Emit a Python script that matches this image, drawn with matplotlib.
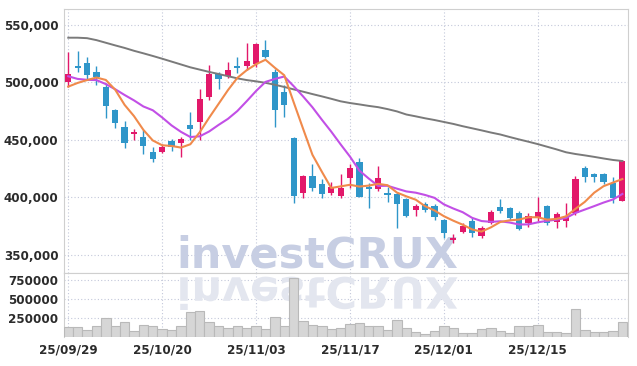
import matplotlib
matplotlib.use("Agg")
import matplotlib.pyplot as plt
import matplotlib.patheffects as pe
from matplotlib import font_manager as fm
from matplotlib.transforms import Affine2D
from matplotlib.ticker import FuncFormatter
import numpy as np

# tick labels on the date axis (trading-day index -> label)
tick_idx = [0, 10, 20, 30, 40, 50]
tick_labels = ["25/09/29", "25/10/20", "25/11/03", "25/11/17", "25/12/01", "25/12/15"]

# OHLC in thousands of won
opens = [500.6, 514.3, 517.2, 509.1, 496.3, 476.0, 461.2, 454.8, 452.7, 439.6,
         439.6, 448.7, 447.6, 462.9, 465.8, 487.5, 507.1, 505.8, 514.5, 514.5,
         516.0, 528.2, 508.8, 491.6, 451.8, 404.0, 418.5, 411.5, 404.0, 401.3,
         417.0, 430.2, 409.2, 406.9, 404.0, 402.8, 398.2, 388.9, 394.1, 392.4,
         380.2, 362.7, 370.0, 379.3, 366.5, 377.3, 391.2, 390.3, 386.5, 377.3,
         382.1, 392.4, 378.7, 379.5, 386.0, 425.7, 420.2, 420.2, 412.6, 397.0]
highs = [526.7, 527.4, 521.9, 514.3, 499.2, 476.8, 466.6, 459.1, 458.5, 443.3,
         446.4, 450.4, 452.4, 474.5, 494.0, 515.2, 509.3, 518.0, 522.4, 534.1,
         534.3, 536.9, 511.4, 497.7, 452.4, 419.3, 428.7, 415.6, 413.0, 419.9,
         428.7, 433.9, 412.1, 427.2, 409.2, 404.8, 399.3, 394.1, 396.1, 393.8,
         380.8, 367.7, 377.3, 381.7, 374.9, 388.9, 398.2, 391.2, 388.3, 386.0,
         400.0, 393.2, 386.8, 394.7, 418.5, 427.2, 421.4, 421.4, 417.8, 432.4]
lows = [496.3, 509.3, 502.7, 497.7, 468.7, 460.0, 443.1, 449.8, 437.6, 430.2,
        438.5, 440.5, 435.0, 449.8, 449.8, 484.7, 494.0, 503.6, 507.9, 510.8,
        513.7, 521.5, 461.4, 469.6, 394.7, 399.0, 405.7, 399.0, 401.9, 399.6,
        408.3, 400.1, 390.3, 405.7, 396.1, 372.9, 382.8, 383.7, 387.4, 380.2,
        364.2, 360.4, 368.6, 365.1, 364.2, 376.7, 386.0, 380.2, 371.5, 374.3,
        379.5, 375.8, 372.9, 373.8, 384.5, 413.5, 413.5, 411.5, 395.2, 396.7]
closes = [507.3, 512.5, 506.4, 504.7, 479.4, 464.9, 446.8, 457.1, 444.9, 433.3,
          444.0, 443.5, 450.4, 459.4, 485.5, 507.3, 503.2, 510.8, 512.8, 518.9,
          533.5, 522.4, 476.0, 480.3, 401.3, 418.5, 408.3, 402.8, 409.2, 408.0,
          425.7, 400.5, 406.9, 417.0, 401.7, 393.8, 383.9, 392.4, 388.9, 383.0,
          368.6, 364.5, 374.9, 368.6, 373.5, 387.1, 388.0, 381.6, 372.3, 383.6,
          387.1, 377.3, 385.1, 383.6, 415.8, 417.8, 417.3, 413.5, 399.0, 431.5]

# volume in thousands of shares
volumes = [139, 139, 100, 155, 259, 155, 203, 87, 168, 155,
           117, 104, 155, 333, 350, 203, 146, 125, 155, 130,
           155, 112, 268, 155, 773, 211, 168, 151, 112, 125,
           177, 190, 155, 155, 100, 229, 125, 73, 50, 87,
           155, 125, 61, 61, 112, 125, 87, 61, 155, 155,
           164, 73, 73, 61, 372, 100, 73, 73, 87, 203]

# moving averages (thousands)
ma5 = [496.3, 499.5, 502.0, 504.2, 502.1, 493.6, 480.4, 470.6, 458.6, 449.4,
       445.2, 444.6, 443.2, 446.1, 456.6, 469.2, 481.2, 493.2, 503.9, 510.6,
       515.8, 519.7, 512.7, 506.2, 482.7, 459.7, 436.9, 422.2, 408.0, 409.4,
       410.8, 409.2, 410.1, 411.6, 410.4, 404.0, 400.7, 397.8, 392.1, 388.4,
       383.4, 379.5, 376.0, 371.9, 370.0, 373.7, 378.4, 379.8, 380.5, 382.5,
       382.5, 380.4, 381.1, 383.3, 389.8, 395.9, 403.9, 409.6, 412.7, 415.8]
ma10 = [505.3, 503.0, 502.2, 502.0, 498.5, 494.0, 489.0, 484.3, 479.0, 475.7,
        469.4, 462.5, 456.9, 452.4, 453.0, 457.2, 462.9, 468.2, 475.0, 483.6,
        492.5, 500.4, 503.0, 505.1, 496.7, 487.8, 478.3, 467.5, 457.1, 446.0,
        435.3, 423.1, 416.2, 409.8, 409.9, 407.4, 405.0, 403.9, 401.9, 399.4,
        393.7, 390.1, 386.9, 382.0, 379.2, 378.5, 379.0, 377.9, 376.2, 376.3,
        378.1, 379.4, 380.4, 381.9, 386.2, 389.2, 392.2, 395.3, 398.0, 402.8]
ma_long = [538.9, 538.9, 538.5, 536.8, 534.5, 532.2, 530.0, 527.5, 525.3, 523.0,
           520.6, 518.1, 515.6, 513.1, 511.1, 509.1, 507.3, 505.4, 503.5, 502.0,
           500.9, 499.6, 497.9, 496.0, 493.9, 491.9, 489.8, 487.8, 485.7, 483.5,
           482.0, 480.8, 479.5, 478.4, 476.7, 474.7, 472.0, 470.4, 468.7, 467.2,
           465.5, 463.8, 461.8, 460.0, 458.2, 456.3, 454.6, 452.4, 450.3, 448.3,
           446.2, 443.9, 441.6, 439.1, 437.6, 436.4, 435.1, 433.7, 432.4, 431.5]

UP = "#e2186a"
DOWN = "#2f96c9"
GRID = "#c3c8da"
SPINE = "#cfcfcf"

# the chart uses a narrow face for its labels; take the narrowest one installed
_fonts = fm.fontManager.ttflist
if any(f.name == "Liberation Sans Narrow" for f in _fonts):
    TICK_FONT = dict(family="Liberation Sans Narrow", size=11, weight="bold")
elif any(f.name == "DejaVu Sans" and f.stretch == "condensed" for f in _fonts):
    TICK_FONT = dict(family="DejaVu Sans", stretch="condensed", size=9.5, weight="bold")
else:
    TICK_FONT = dict(family="Liberation Sans", size=9.5, weight="bold")
TICK_FONT["color"] = "#2b2b2b"


class Mirror(pe.AbstractPathEffect):
    """draws the glyphs upside down, hanging from the top of the text box"""
    def draw_path(self, renderer, gc, tpath, affine, rgbFace=None):
        top = tpath.vertices[:, 1].max()
        flip = Affine2D().scale(1, -1).translate(0, top)
        renderer.draw_path(gc, tpath, flip + affine, rgbFace)


x = np.arange(len(closes))
o = np.array(opens) * 1000
h = np.array(highs) * 1000
l = np.array(lows) * 1000
c = np.array(closes) * 1000
colors = [UP if cc >= oo else DOWN for oo, cc in zip(o, c)]

fig = plt.figure(figsize=(6.37, 3.66), dpi=100)
ax = fig.add_axes([0.1005, 0.2549, 0.8854, 0.7205])
axv = fig.add_axes([0.1005, 0.0779, 0.8854, 0.1770], sharex=ax)

# price panel
ax.vlines(x, l, h, colors=colors, linewidth=1.0, zorder=3)
body = np.maximum(np.abs(c - o), 1200)
ax.bar(x, body, bottom=np.minimum(o, c), width=0.66, color=colors, zorder=4)
ax.plot(x, np.array(ma_long) * 1000, color="#7a7a7a", lw=1.4, zorder=5)
ax.plot(x, np.array(ma10) * 1000, color="#c24fe6", lw=1.5, zorder=5)
ax.plot(x, np.array(ma5) * 1000, color="#f08a4b", lw=1.5, zorder=5)

ax.set_xlim(-0.45, 59.6)
ax.set_ylim(334200, 563900)
ax.set_yticks([350000, 400000, 450000, 500000, 550000])
ax.yaxis.set_major_formatter(FuncFormatter(lambda v, p: f"{int(v):,}"))
ax.set_xticks(tick_idx)
ax.tick_params(axis="x", labelbottom=False, length=0)
ax.tick_params(axis="y", length=0, pad=4)
for t in ax.get_yticklabels():
    t.set(**TICK_FONT)
ax.grid(True, color=GRID, linestyle=(0, (1, 2)), linewidth=0.8, zorder=0)
ax.set_axisbelow(True)
for s in ["left", "top", "right", "bottom"]:
    ax.spines[s].set_color(SPINE)

# watermark
ax.text(0.4495, 0.0216, "investCRUX", transform=ax.transAxes, ha="center", va="baseline",
        fontsize=31, fontweight="bold", family="DejaVu Sans", color="#c7cee3",
        zorder=2, clip_on=False)

# volume panel
axv.bar(x, np.array(volumes) * 1000, width=1.0, color="#d6d6d6", edgecolor="#b9b9b9",
        linewidth=0.8, zorder=3)
axv.set_ylim(0, 845000)
axv.set_yticks([250000, 500000, 750000])
axv.yaxis.set_major_formatter(FuncFormatter(lambda v, p: f"{int(v)}"))
axv.set_xticks(tick_idx)
axv.set_xticklabels(tick_labels)
axv.tick_params(length=0)
axv.tick_params(axis="y", pad=4)
axv.tick_params(axis="x", pad=4)
for t in axv.get_yticklabels() + axv.get_xticklabels():
    t.set(**TICK_FONT)
axv.grid(True, color=GRID, linestyle=(0, (1, 2)), linewidth=0.8, zorder=0)
axv.set_axisbelow(True)
for s in ["left", "top", "right"]:
    axv.spines[s].set_color(SPINE)
axv.spines["bottom"].set_visible(False)

# reflection of the watermark
axv.text(0.4495, 0.934, "investCRUX", transform=axv.transAxes, ha="center", va="top",
         fontsize=31, fontweight="bold", family="DejaVu Sans", color="#e3e6ef",
         zorder=2, clip_on=False, path_effects=[Mirror()])

fig.savefig("out.png", dpi=100)
